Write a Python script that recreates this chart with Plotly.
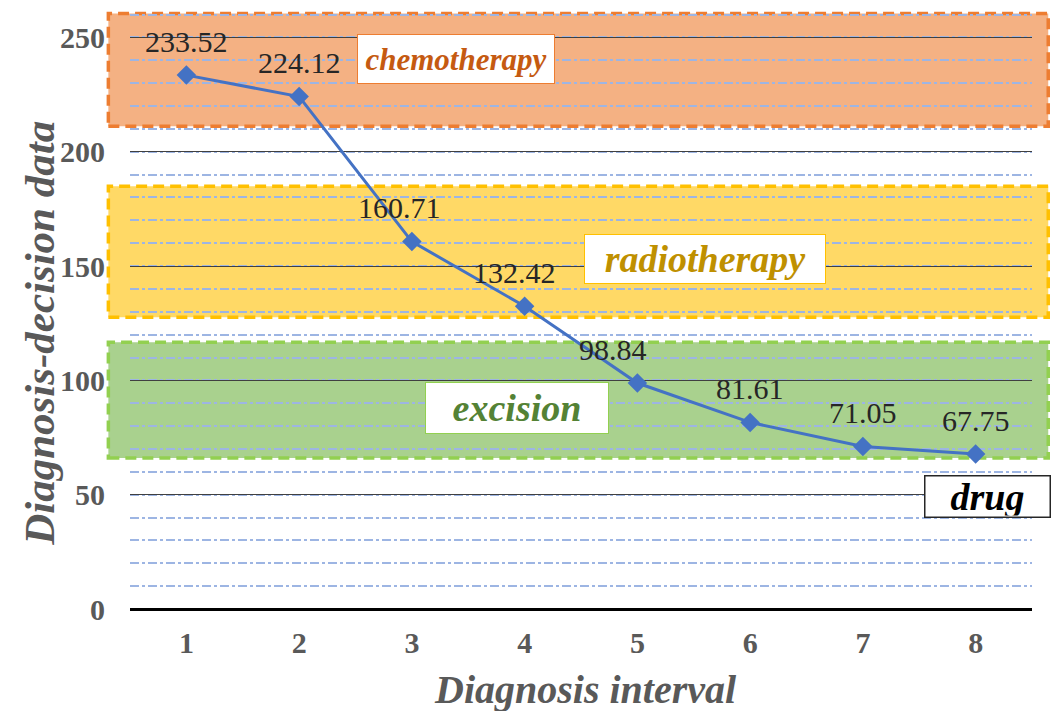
import plotly.graph_objects as go

intervals = [1, 2, 3, 4, 5, 6, 7, 8]
values = [233.52, 224.12, 160.71, 132.42, 98.84, 81.61, 71.05, 67.75]
x_labels = ["1", "2", "3", "4", "5", "6", "7", "8"]
y_ticks = [0, 50, 100, 150, 200, 250]

zone_names = ["chemotherapy", "radiotherapy", "excision"]
zone_low = [211.1, 127.6, 66.0]
zone_high = [260.5, 184.9, 116.7]

# styling / placement (not data)
zone_style = [
    dict(fill="#F4B183", line="#ED7D31", text="#C55A11", lx=0.361, ly=240.4, w=194, h=46, size=31),
    dict(fill="#FFD966", line="#FFC000", text="#BF9000", lx=0.6375, ly=153.0, w=238, h=46, size=38),
    dict(fill="#A9D18E", line="#92D050", text="#548235", lx=0.429, ly=88.0, w=180, h=48, size=38),
]
label_dx = [0, 0, -12, -10, -24, 0, 0, 0]

SERIF = "Liberation Serif"

fig = go.Figure()

for lo, hi, st in zip(zone_low, zone_high, zone_style):
    fig.add_shape(type="rect", xref="paper", yref="y", x0=-0.024, x1=1.018, y0=lo, y1=hi,
                  fillcolor=st["fill"], line=dict(color=st["line"], width=3.5, dash="11px,6px"),
                  layer="below")

fig.add_trace(go.Scatter(
    x=intervals, y=values, mode="lines+markers",
    line=dict(color="#4472C4", width=3),
    marker=dict(symbol="diamond", size=15, color="#4472C4"),
    showlegend=False, hoverinfo="skip"))

for xi, v, dx in zip(intervals, values, label_dx):
    fig.add_annotation(x=xi, y=v, xref="x", yref="y", text=f"{v:.2f}", showarrow=False,
                       xshift=dx, yshift=34, font=dict(family=SERIF, size=30, color="#262626"))

for name, st in zip(zone_names, zone_style):
    fig.add_annotation(x=st["lx"], y=st["ly"], xref="paper", yref="y", text=f"<b><i>{name}</i></b>",
                       xanchor="center", yanchor="middle",
                       showarrow=False, bgcolor="white", bordercolor=st["line"], borderwidth=1,
                       width=st["w"], height=st["h"],
                       font=dict(family=SERIF, size=st["size"], color=st["text"]))

fig.add_annotation(x=0.951, y=49.4, xref="paper", yref="y", text="<b><i>drug</i></b>",
                   xanchor="center", yanchor="middle",
                   showarrow=False, bgcolor="white", bordercolor="#262626", borderwidth=1.5,
                   width=122, height=38, font=dict(family=SERIF, size=38, color="black"))

fig.add_annotation(x=0.5055, y=-0.135, xref="paper", yref="paper", text="<b><i>Diagnosis interval</i></b>",
                   xanchor="center", yanchor="middle",
                   showarrow=False, font=dict(family=SERIF, size=40, color="#595959"))
fig.add_annotation(x=-0.0998, y=0.461, xref="paper", yref="paper", text="<b><i>Diagnosis-decision data</i></b>",
                   xanchor="center", yanchor="middle",
                   textangle=-90, showarrow=False, font=dict(family=SERIF, size=43, color="#595959"))

fig.update_layout(
    width=1058, height=711,
    margin=dict(l=130, r=26, t=10, b=102),
    paper_bgcolor="white", plot_bgcolor="rgba(0,0,0,0)",
    showlegend=False,
)
fig.update_xaxes(
    range=[0.5, 8.5], tickvals=intervals, ticktext=[f"<b>{t}</b>" for t in x_labels],
    showgrid=False, showline=False, zeroline=False,
    ticklabelstandoff=13,
    tickfont=dict(family=SERIF, size=30, color="#595959"),
)
fig.update_yaxes(
    range=[0, 262], tickvals=y_ticks, ticktext=[f"<b>{t}</b>" for t in y_ticks],
    showgrid=True, gridcolor="#404040", gridwidth=1.2,
    zeroline=True, zerolinecolor="black", zerolinewidth=3,
    showline=False, ticklabelstandoff=24,
    minor=dict(dtick=10, showgrid=True, gridcolor="#9DB5E3", gridwidth=1.5, griddash="dashdot"),
    tickfont=dict(family=SERIF, size=30, color="#595959"),
)

fig.write_html("out.html")
